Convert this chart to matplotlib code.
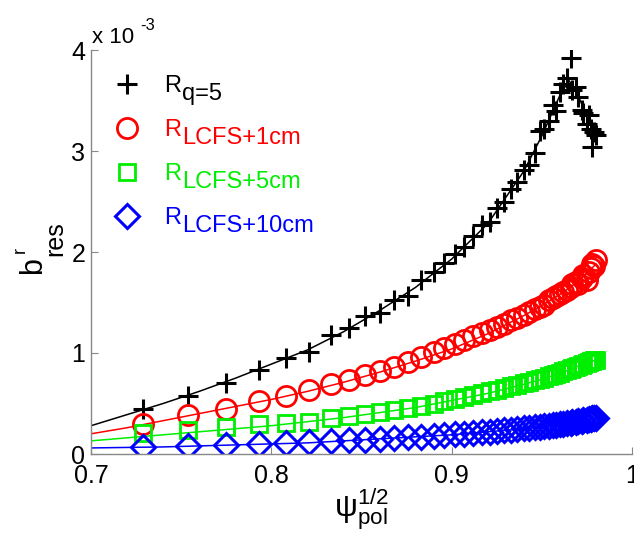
import matplotlib
matplotlib.use("Agg")
import matplotlib.pyplot as plt
import matplotlib.transforms as mtransforms

# data (b^r_res in units of 1e-3)
psi = [0.729, 0.754, 0.775, 0.793, 0.808, 0.821, 0.833, 0.843, 0.852, 0.860,
       0.868, 0.876, 0.883, 0.890, 0.896, 0.902, 0.907, 0.912, 0.917, 0.921,
       0.925, 0.929, 0.933, 0.936, 0.940, 0.943, 0.946, 0.949, 0.951, 0.954,
       0.956, 0.958, 0.960, 0.962, 0.964, 0.966, 0.967, 0.969, 0.970, 0.972,
       0.973, 0.975, 0.976, 0.977, 0.978, 0.979, 0.980]
b_q5 = [0.45, 0.57, 0.70, 0.83, 0.95, 1.01, 1.18, 1.25, 1.37, 1.40,
        1.52, 1.56, 1.72, 1.80, 1.89, 1.98, 2.05, 2.16, 2.27, 2.30,
        2.44, 2.50, 2.62, 2.69, 2.81, 2.86, 2.98, 3.20, 3.22, 3.30,
        3.46, 3.40, 3.58, 3.66, 3.72, 3.92, 3.60, 3.63, 3.53, 3.41,
        3.38, 3.27, 3.36, 3.22, 3.04, 3.19, 3.16]
b_1cm = [0.30, 0.39, 0.45, 0.52, 0.57, 0.63, 0.69, 0.73, 0.78, 0.82,
         0.86, 0.91, 0.96, 1.01, 1.05, 1.09, 1.13, 1.17, 1.20, 1.23,
         1.26, 1.29, 1.33, 1.35, 1.38, 1.41, 1.44, 1.46, 1.48, 1.52,
         1.54, 1.56, 1.58, 1.60, 1.62, 1.65, 1.68, 1.70, 1.68, 1.74,
         1.77, 1.72, 1.80, 1.84, 1.88, 1.86, 1.92]
b_5cm = [0.21, 0.24, 0.27, 0.30, 0.31, 0.32, 0.36, 0.38, 0.40, 0.42,
         0.44, 0.46, 0.48, 0.50, 0.52, 0.54, 0.56, 0.58, 0.60, 0.62,
         0.63, 0.65, 0.67, 0.68, 0.70, 0.71, 0.73, 0.74, 0.75, 0.77,
         0.78, 0.79, 0.80, 0.82, 0.83, 0.84, 0.85, 0.86, 0.87, 0.88,
         0.89, 0.90, 0.91, 0.92, 0.92, 0.93, 0.93]
b_10cm = [0.07, 0.08, 0.09, 0.10, 0.11, 0.12, 0.13, 0.14, 0.14, 0.15,
          0.16, 0.17, 0.17, 0.18, 0.19, 0.20, 0.20, 0.21, 0.22, 0.22,
          0.23, 0.24, 0.24, 0.25, 0.26, 0.26, 0.27, 0.27, 0.28, 0.28,
          0.29, 0.29, 0.30, 0.30, 0.31, 0.31, 0.32, 0.32, 0.33, 0.33,
          0.34, 0.34, 0.35, 0.35, 0.36, 0.36, 0.36]

# smooth fit curves
fit_psi = [0.70, 0.72, 0.74, 0.76, 0.78, 0.80, 0.82, 0.84, 0.86, 0.88,
           0.90, 0.92, 0.94, 0.95, 0.96, 0.965, 0.97, 0.975, 0.98]
fit_q5 = [0.28, 0.39, 0.50, 0.62, 0.75, 0.89, 1.03, 1.21, 1.42, 1.65,
          1.93, 2.28, 2.80, 3.15, 3.55, 3.70, 3.55, 3.35, 3.15]
fit_1cm = [0.20, 0.26, 0.33, 0.40, 0.47, 0.54, 0.62, 0.71, 0.81, 0.92,
           1.04, 1.19, 1.37, 1.47, 1.58, 1.64, 1.71, 1.79, 1.88]
fit_5cm = [0.13, 0.16, 0.19, 0.22, 0.25, 0.28, 0.32, 0.36, 0.41, 0.46,
           0.53, 0.60, 0.69, 0.74, 0.80, 0.83, 0.87, 0.90, 0.93]
fit_10cm = [0.06, 0.065, 0.07, 0.08, 0.09, 0.10, 0.11, 0.13, 0.15, 0.17,
            0.19, 0.22, 0.25, 0.27, 0.29, 0.31, 0.32, 0.34, 0.35]

subs = ['q=5', 'LCFS+1cm', 'LCFS+5cm', 'LCFS+10cm']
colors = ['black', '#ff0000', '#00ee00', '#0000ff']

plt.rcParams['font.family'] = ['Liberation Sans', 'DejaVu Sans']
plt.rcParams['mathtext.fontset'] = 'custom'
plt.rcParams['mathtext.rm'] = 'Liberation Sans'
plt.rcParams['mathtext.it'] = 'Liberation Sans'

fig = plt.figure(figsize=(6.34, 5.33), dpi=100)
ax = fig.add_axes([91/634, 1-454/533, 541/634, 404/533])

series = [(b_q5, fit_q5, '+', 15, 2.2),
          (b_1cm, fit_1cm, 'o', 14.5, 2.0),
          (b_5cm, fit_5cm, 's', 11, 2.0),
          (b_10cm, fit_10cm, 'D', 12, 2.2)]
handles = []
for (vals, fit, mk, ms, mew), c in zip(series, colors):
    ax.plot(fit_psi, fit, color=c, lw=1.1)
    h, = ax.plot(psi, vals, ls='none', marker=mk, ms=ms, mew=mew,
                 mec=c, mfc='none', color=c)
    handles.append(h)

ax.set_xlim(0.7, 1.0)
ax.set_ylim(0, 4)
ax.set_xticks([0.7, 0.8, 0.9, 1.0])
ax.set_xticklabels(['0.7', '0.8', '0.9', '1'])
ax.set_yticks([0, 1, 2, 3, 4])
ax.set_yticklabels(['0', '1', '2', '3', '4'])
for s in ['top', 'right']:
    ax.spines[s].set_visible(False)
for s in ['left', 'bottom']:
    ax.spines[s].set_color('#888888')
    ax.spines[s].set_linewidth(1.0)
ax.tick_params(direction='in', length=5, width=0.8, color='#888888',
               labelsize=18)
ax.tick_params(axis='x', pad=7)
ax.tick_params(axis='y', pad=4)
ax.set_xlabel(r'$\mathrm{\psi}^{1/2}_{\mathrm{pol}}$', fontsize=23,
              labelpad=-1)

leg = ax.legend(handles, ['R'] * 4, loc='upper left',
                bbox_to_anchor=(0.044, 0.937), frameon=False, fontsize=17,
                handlelength=1.0, handletextpad=1.1, labelspacing=0.93,
                borderpad=0, borderaxespad=0)
for t, c in zip(leg.get_texts(), colors):
    t.set_color(c)

pix = mtransforms.IdentityTransform()
fig.canvas.draw()
rend = fig.canvas.get_renderer()
for t, s, c in zip(leg.get_texts(), subs, colors):
    bb = t.get_window_extent(rend)
    fig.text(bb.x1 + 0.5, bb.y0 - 8, s, color=c, fontsize=17,
             ha='left', va='bottom', transform=pix)

# exponent label
fig.text(92, 533 - 43, 'x 10', fontsize=16, ha='left', va='baseline',
         transform=pix)
fig.text(140, 533 - 30, '-3', fontsize=12, ha='left', va='baseline',
         transform=pix)

# y label b^r_res
fig.text(33, 533 - 266, 'b', fontsize=22, rotation=90, ha='center',
         va='center', transform=pix)
fig.text(20, 533 - 250, 'r', fontsize=13, rotation=90, ha='center',
         va='center', transform=pix)
fig.text(55, 533 - 239, 'res', fontsize=18, rotation=90, ha='center',
         va='center', transform=pix)

fig.savefig('out.png', dpi=100)
